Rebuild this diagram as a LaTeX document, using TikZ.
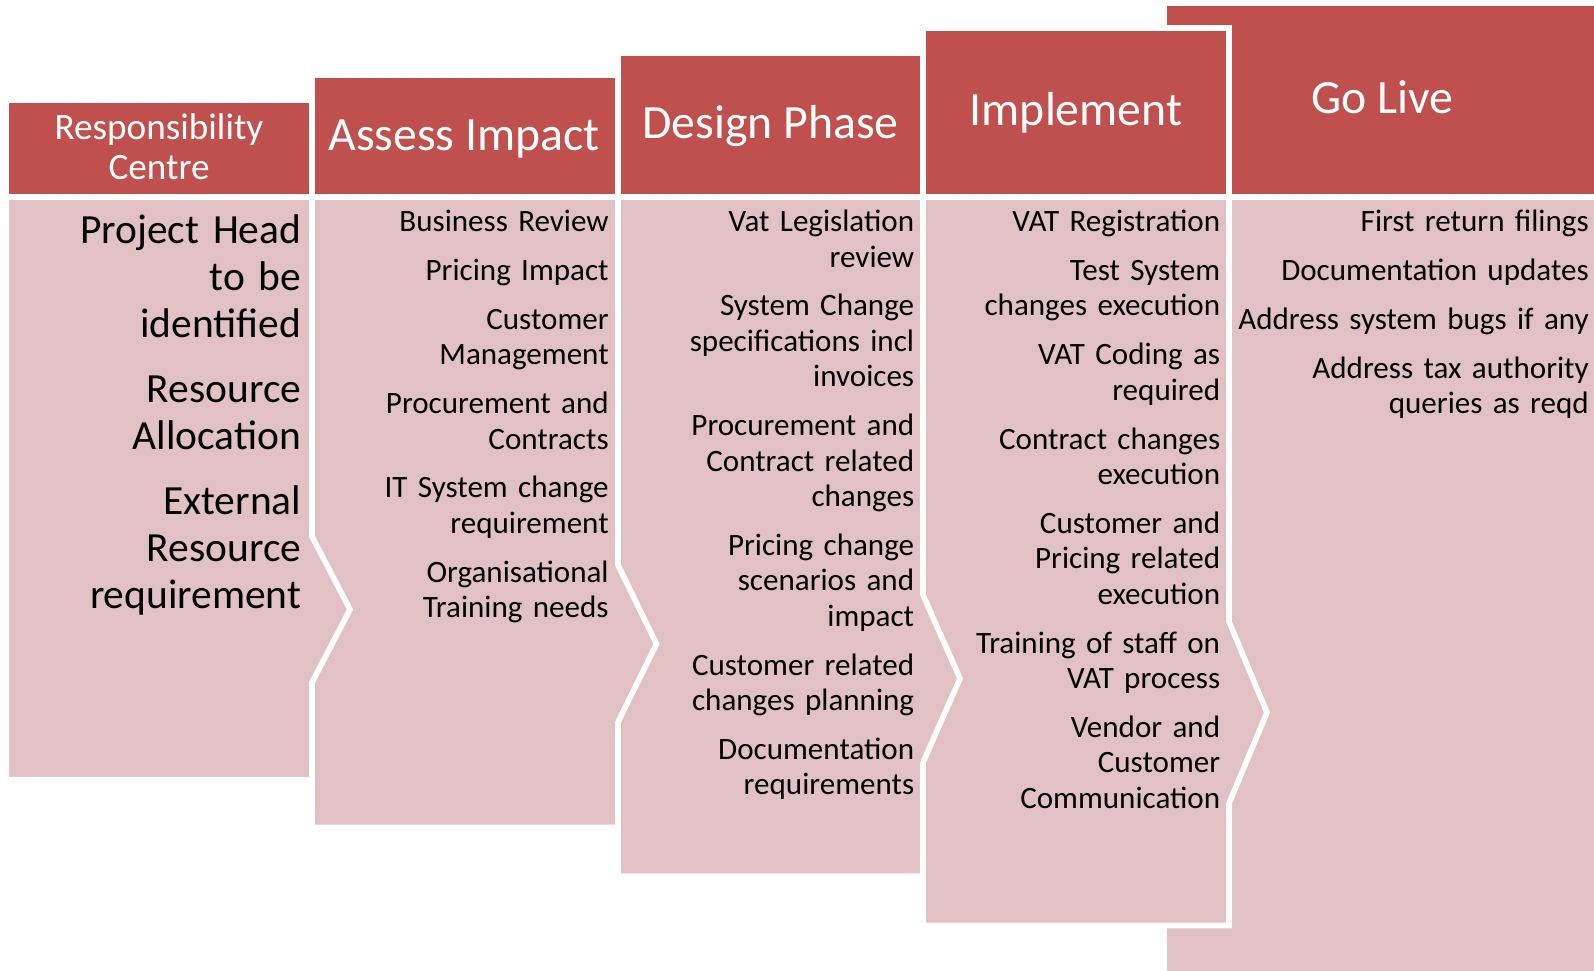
\documentclass[tikz,border=0pt]{standalone}
\usepackage{fontspec}
\setmainfont{Carlito}
\usepackage{xcolor}
\definecolor{headred}{RGB}{192,80,77}
\definecolor{bodypink}{RGB}{225,193,195}

\begin{document}
\begin{tikzpicture}[x=0.75pt,y=-0.75pt,
		head/.style={fill=headred,draw=white,line width=4.2pt},
		body/.style={fill=bodypink,draw=white,line width=4.2pt},
		headtext/.style={text=white,inner sep=0pt,font=\fontsize{35.8}{43}\selectfont},
		bodytext/.style={inner sep=0pt,align=right,text width=217pt,font=\fontsize{23.3}{26.6}\selectfont}]
			\useasboundingbox (0,0) rectangle (1594,970);
			\clip (0,0) rectangle (1594,970);
			% Go Live, behind the others
			\begin{scope}[shift={(1164.5,0)}]
				\coordinate (1) at (0,3.3);
				\coordinate (2) at (440,3.3);
				\coordinate (3) at (440,197);
				\coordinate (4) at (0,197);
				\coordinate (5) at (440,990);
				\coordinate (6) at (0,990);
				\draw[body] (4) -- (3) -- (5) -- (6) -- cycle;
				\draw[head] (1) -- (2) -- (3) -- (4) -- cycle;
				\node[headtext,anchor=base] (golive) at (217.5,113.3) {Go Live};
				\node[bodytext,text width=270pt,anchor=base east] (golivelist) at (424.5,231.7)
					{First return filings\\[10pt]
					Documentation updates\\[10pt]
					Address system bugs if any\\[10pt]
					Address tax authority\\queries as reqd};
			\end{scope}
			% Implement
			\begin{scope}[shift={(923,0)}]
				\coordinate (1) at (0,28);
				\coordinate (2) at (306,28);
				\coordinate (3) at (306,197);
				\coordinate (4) at (0,197);
				\coordinate (5) at (306,621.7);
				\coordinate (6) at (344,712.5);
				\coordinate (7) at (306,803.3);
				\coordinate (8) at (306,925.5);
				\coordinate (9) at (0,925.5);
				\draw[body] (4) -- (3) -- (5) -- (6) -- (7) -- (8) -- (9) -- cycle;
				\draw[head] (1) -- (2) -- (3) -- (4) -- cycle;
				\node[headtext,anchor=base] (implement) at (153,126) {Implement};
				\node[bodytext,anchor=base east] (implementlist) at (297.4,231.7)
					{VAT Registration\\[10pt]
					Test System\\changes execution\\[10pt]
					VAT Coding as\\required\\[10pt]
					Contract changes\\execution\\[10pt]
					Customer and\\Pricing related\\execution\\[10pt]
					Training of staff on\\VAT process\\[10pt]
					Vendor and\\Customer\\Communication};
			\end{scope}
			% Design Phase
			\begin{scope}[shift={(618,0)}]
				\coordinate (1) at (0,53.1);
				\coordinate (2) at (305,53.1);
				\coordinate (3) at (305,197);
				\coordinate (4) at (0,197);
				\coordinate (5) at (305,595);
				\coordinate (6) at (342,678.5);
				\coordinate (7) at (305,762.5);
				\coordinate (8) at (305,876.2);
				\coordinate (9) at (0,876.2);
				\draw[body] (4) -- (3) -- (5) -- (6) -- (7) -- (8) -- (9) -- cycle;
				\draw[head] (1) -- (2) -- (3) -- (4) -- cycle;
				\node[headtext,anchor=base] (design) at (152.5,139) {Design Phase};
				\node[bodytext,anchor=base east] (designlist) at (296.4,231.7)
					{Vat Legislation\\review\\[10pt]
					System Change\\specifications incl\\invoices\\[10pt]
					Procurement and\\Contract related\\changes\\[10pt]
					Pricing change\\scenarios and\\impact\\[10pt]
					Customer related\\changes planning\\[10pt]
					Documentation\\requirements};
			\end{scope}
			% Assess Impact
			\begin{scope}[shift={(312,0)}]
				\coordinate (1) at (0,75.5);
				\coordinate (2) at (306,75.5);
				\coordinate (3) at (306,197);
				\coordinate (4) at (0,197);
				\coordinate (5) at (306,565);
				\coordinate (6) at (344.5,644);
				\coordinate (7) at (306,722);
				\coordinate (8) at (306,827.4);
				\coordinate (9) at (0,827.4);
				\draw[body] (4) -- (3) -- (5) -- (6) -- (7) -- (8) -- (9) -- cycle;
				\draw[head] (1) -- (2) -- (3) -- (4) -- cycle;
				\node[headtext,anchor=base] (assess) at (152,150.7) {Assess Impact};
				\node[bodytext,anchor=base east] (assesslist) at (296.9,231.7)
					{Business Review\\[10pt]
					Pricing Impact\\[10pt]
					Customer\\Management\\[10pt]
					Procurement and\\Contracts\\[10pt]
					IT System change\\requirement\\[10pt]
					Organisational\\Training needs};
			\end{scope}
			% Responsibility Centre, in front
			\begin{scope}[shift={(6.3,0)}]
				\coordinate (1) at (0,99.9);
				\coordinate (2) at (305.7,99.9);
				\coordinate (3) at (305.7,197);
				\coordinate (4) at (0,197);
				\coordinate (5) at (305.7,536.5);
				\coordinate (6) at (343.7,609.5);
				\coordinate (7) at (305.7,682.5);
				\coordinate (8) at (305.7,779.6);
				\coordinate (9) at (0,779.6);
				\draw[body] (4) -- (3) -- (5) -- (6) -- (7) -- (8) -- (9) -- cycle;
				\draw[head] (1) -- (2) -- (3) -- (4) -- cycle;
				\node[headtext,anchor=base,align=center,text width=200pt,font=\fontsize{27.9}{30}\selectfont] (resp) at (152.7,139.3) {Responsibility\\Centre};
				\node[bodytext,text width=210pt,font=\fontsize{31.1}{35.1}\selectfont,anchor=base east] (resplist) at (295.2,243.5)
					{Project Head\\to be\\identified\\[13.9pt]
					Resource\\Allocation\\[13.9pt]
					External\\Resource\\requirement};
			\end{scope}
		\end{tikzpicture}
\end{document}
